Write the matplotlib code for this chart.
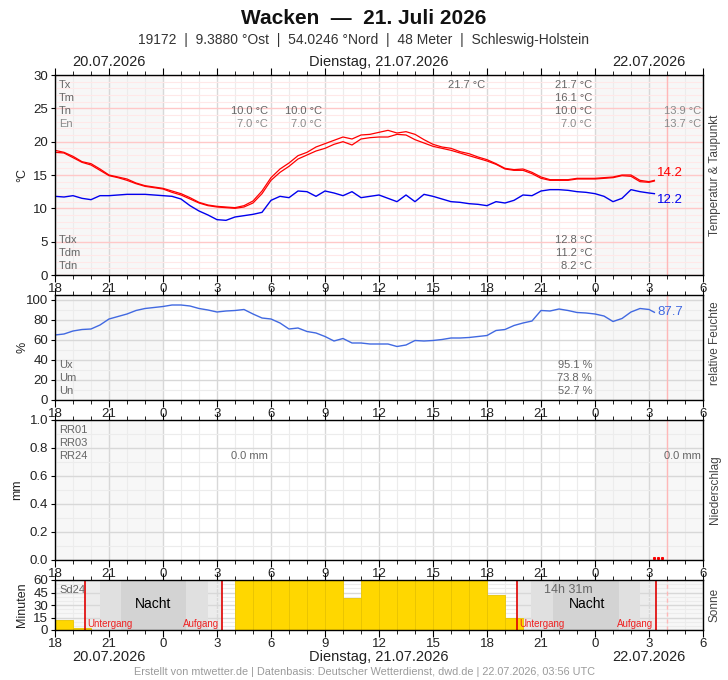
import numpy as np
import matplotlib
matplotlib.use("Agg")
import matplotlib.pyplot as plt
from matplotlib.ticker import MultipleLocator

plt.rcParams['font.family'] = ['Liberation Sans', 'DejaVu Sans']

# ---------------- data ----------------
hours_ticks = list(range(0, 37, 3))
hour_labels = ['18', '21', '0', '3', '6', '9', '12', '15', '18', '21', '0', '3', '6']

t_hours = [0, 0.5, 1, 1.5, 2, 2.5, 3, 3.5, 4, 4.5, 5, 5.5, 6, 6.5, 7, 7.5, 8, 8.5, 9, 9.5,
           10, 10.5, 11, 11.5, 12, 12.5, 13, 13.5, 14, 14.5, 15, 15.5, 16, 16.5, 17, 17.5,
           18, 18.5, 19, 19.5, 20, 20.5, 21, 21.5, 22, 22.5, 23, 23.5, 24, 24.5, 25, 25.5,
           26, 26.5, 27, 27.5, 28, 28.5, 29, 29.5, 30, 30.5, 31, 31.5, 32, 32.5, 33, 33.3]

temp_upper = [18.7, 18.4, 17.8, 17.0, 16.7, 15.9, 15.0, 14.7, 14.4, 13.8, 13.4, 13.2, 13.0, 12.6,
              12.2, 11.6, 10.9, 10.5, 10.3, 10.2, 10.1, 10.4, 11.1, 12.6, 14.6, 15.9, 16.8, 17.9,
              18.4, 19.2, 19.7, 20.2, 20.7, 20.4, 21.0, 21.1, 21.4, 21.7, 21.3, 21.5, 21.1, 20.3,
              19.6, 19.2, 19.0, 18.5, 18.2, 17.7, 17.3, 16.7, 16.0, 15.8, 15.9, 15.4, 14.7, 14.3,
              14.3, 14.3, 14.5, 14.5, 14.5, 14.6, 14.7, 15.0, 15.0, 14.2, 14.0, 14.2]

temp_lower = [18.4, 18.3, 17.6, 16.9, 16.5, 15.7, 14.9, 14.6, 14.2, 13.7, 13.3, 13.1, 12.9, 12.4,
              12.0, 11.4, 10.8, 10.4, 10.2, 10.1, 10.0, 10.2, 10.8, 12.2, 14.2, 15.4, 16.3, 17.4,
              18.0, 18.6, 19.0, 19.6, 20.0, 19.5, 20.4, 20.6, 20.7, 20.7, 21.1, 21.0, 20.3, 19.8,
              19.3, 19.0, 18.7, 18.3, 17.9, 17.5, 17.1, 16.6, 15.9, 15.7, 15.7, 15.2, 14.5, 14.2,
              14.2, 14.2, 14.4, 14.4, 14.4, 14.5, 14.6, 14.9, 14.8, 14.0, 13.9, 14.1]

dewpoint = [11.8, 11.7, 11.9, 11.5, 11.3, 11.9, 11.9, 12.0, 12.1, 12.1, 12.1, 12.0, 11.9, 11.8,
            11.4, 10.4, 9.6, 9.0, 8.3, 8.2, 8.7, 8.9, 9.1, 9.4, 11.2, 11.8, 11.6, 12.6, 12.5,
            11.8, 12.6, 12.3, 11.9, 12.5, 11.6, 11.8, 12.0, 11.5, 11.0, 12.0, 11.0, 12.1, 11.8,
            11.4, 11.0, 10.9, 10.7, 10.6, 10.4, 11.0, 10.8, 11.2, 12.0, 11.9, 12.6, 12.8, 12.8,
            12.7, 12.5, 12.4, 12.2, 11.8, 11.0, 11.5, 12.8, 12.5, 12.3, 12.2]

humidity = [65, 66, 69, 70.5, 71, 75, 81, 83.5, 86, 89.5, 91.5, 92.5, 93.5, 95, 95, 94, 91.5, 90,
            88, 89, 89.5, 90.5, 86, 82, 81, 77, 71, 72, 68.5, 67, 63.5, 59, 61.5, 57, 57, 56, 56,
            56, 53.5, 55, 59.5, 59, 59.5, 60.5, 62, 62, 62.5, 63.5, 64.5, 69.5, 70.5, 74.5, 77,
            79, 89.5, 89, 91, 89.5, 87.5, 87, 86, 84, 78.5, 81.5, 88, 91.5, 90.5, 87.7]

rr_hours = [33.3, 33.5, 33.7]
rr_vals = [0.0, 0.0, 0.0]

sun_hours = list(range(0, 26))
sun_minutes = [12, 2, 0, 0, 0, 0, 0, 0, 0, 0, 60, 60, 60, 60, 60, 60, 38, 60, 60, 60, 60, 60,
               60, 60, 42, 15]

sunset = [1.67, 25.67]
sunrise = [9.28, 33.4]
naut_start = [2.5, 26.45]
naut_end = [8.5, 32.5]
astro_start = [3.67, 27.67]
astro_end = [7.28, 31.33]

now_hour = 34.0

# ---------------- layout ----------------
W, H = 728, 680
fig = plt.figure(figsize=(W / 100, H / 100), dpi=100)


def add_ax(top, bottom):
    return fig.add_axes([55 / W, 1 - bottom / H, 648 / W, (bottom - top) / H])


def ftxt(x, y, s, **kw):
    kw.setdefault('va', 'center')
    fig.text(x / W, 1 - y / H, s, **kw)


GREY_TXT = '#666666'


def style_axis(ax, ymaj, ymin, hgrid_major, hgrid_minor):
    ax.set_xlim(0, 36)
    ax.set_xticks(hours_ticks)
    ax.set_xticklabels(hour_labels, fontsize=9.5, color='#222222')
    ax.xaxis.set_minor_locator(MultipleLocator(1))
    ax.yaxis.set_major_locator(MultipleLocator(ymaj))
    ax.yaxis.set_minor_locator(MultipleLocator(ymin))
    ax.tick_params(axis='x', which='both', direction='out', top=True, bottom=True,
                   labeltop=False, pad=1)
    ax.tick_params(axis='x', which='major', length=5)
    ax.tick_params(axis='x', which='minor', length=3)
    ax.tick_params(axis='y', which='major', length=3, labelsize=9.5, pad=2,
                   labelcolor='#222222')
    ax.tick_params(axis='y', which='minor', length=0)
    ax.axvspan(0, 6, color='#f7f7f7', zorder=0, lw=0)
    ax.axvspan(30, 36, color='#f7f7f7', zorder=0, lw=0)
    ax.grid(which='major', axis='x', color='#d8d8d8', lw=1, zorder=1)
    ax.grid(which='minor', axis='x', color='#ececec', lw=0.8, zorder=1)
    ax.grid(which='major', axis='y', color=hgrid_major, lw=1, zorder=1)
    ax.grid(which='minor', axis='y', color=hgrid_minor, lw=0.8, zorder=1)
    ax.set_axisbelow(True)
    for sp in ax.spines.values():
        sp.set_linewidth(1)
        sp.set_color('black')
        sp.set_zorder(10)


# ---------- temperature ----------
axT = add_ax(75, 275)
axT.set_ylim(0, 30)
style_axis(axT, 5, 1, '#ffc8c8', '#ffe8e8')
axT.axvline(now_hour, color='#ffb8b8', lw=1, zorder=2)
axT.plot(t_hours, temp_lower, color='#ff0000', lw=0.9, zorder=5)
axT.plot(t_hours, temp_upper, color='#ff0000', lw=0.9, zorder=5)
axT.plot(t_hours, dewpoint, color='#0000ee', lw=1, zorder=5)

# ---------- humidity ----------
axH = add_ax(295, 400)
axH.set_ylim(0, 105)
style_axis(axH, 20, 10, '#d8d8d8', '#ececec')
axH.set_yticks([0, 20, 40, 60, 80, 100])
axH.axvline(now_hour, color='#ffb8b8', lw=1, zorder=2)
axH.plot(t_hours, humidity, color='#4169e1', lw=1, zorder=5)

# ---------- precipitation ----------
axP = add_ax(420, 560)
axP.set_ylim(0, 1.0)
style_axis(axP, 0.2, 0.1, '#d8d8d8', '#ececec')
axP.yaxis.set_major_formatter(matplotlib.ticker.FormatStrFormatter('%.1f'))
axP.axvline(now_hour, color='#ffb8b8', lw=1, zorder=2)
axP.plot(rr_hours, [v + 0.012 for v in rr_vals], ls='none', marker='s', ms=1.2,
         color='#ff0000', zorder=6)

# ---------- sunshine ----------
axS = add_ax(580, 630)
axS.set_ylim(0, 60)
style_axis(axS, 15, 5, '#d8d8d8', '#ececec')
for i in range(len(sunset)):
    axS.axvspan(sunset[i], sunrise[i], color='#ececec', zorder=0.5, lw=0)
    axS.axvspan(naut_start[i], naut_end[i], color='#e0e0e0', zorder=0.6, lw=0)
    axS.axvspan(astro_start[i], astro_end[i], color='#d3d3d3', zorder=0.7, lw=0)
axS.bar(sun_hours, sun_minutes, width=1, align='edge', color='#ffd700',
        edgecolor='#e9c400', lw=0.6, zorder=3)
for i in range(len(sunset)):
    axS.axvline(sunset[i], color='#e00000', lw=1.2, zorder=6)
    axS.axvline(sunrise[i], color='#e00000', lw=1.2, zorder=6)
    axS.text(sunset[i] + 0.12, 7, 'Untergang', color='#ee2222', fontsize=7,
             va='center', ha='left', zorder=7)
    axS.text(sunrise[i] - 0.15, 7, 'Aufgang', color='#ee2222', fontsize=7,
             va='center', ha='right', zorder=7)
    axS.text((sunset[i] + sunrise[i]) / 2, 31, 'Nacht', color='black', fontsize=10,
             va='center', ha='center', zorder=7)
axS.axvline(now_hour, color='#ffb8b8', lw=1, ls=(0, (3, 2)), zorder=2)

# ---------------- texts ----------------
ftxt(364, 18, 'Wacken  —  21. Juli 2026', ha='center', fontsize=15, fontweight='bold',
     family=['Liberation Sans Narrow', 'Liberation Sans', 'DejaVu Sans'], color='#111111')
ftxt(364, 40, '19172  |  9.3880 °Ost  |  54.0246 °Nord  |  48 Meter  |  Schleswig-Holstein',
     ha='center', fontsize=10, color='#333333',
     family=['Liberation Sans Narrow', 'Liberation Sans', 'DejaVu Sans'])
for y in (62, 657):
    ftxt(109, y, '20.07.2026', ha='center', fontsize=10.5, color='#222222')
    ftxt(379, y, 'Dienstag, 21.07.2026', ha='center', fontsize=10.5, color='#222222')
    ftxt(649, y, '22.07.2026', ha='center', fontsize=10.5, color='#222222')
ftxt(364, 672, 'Erstellt von mtwetter.de | Datenbasis: Deutscher Wetterdienst, dwd.de | '
     '22.07.2026, 03:56 UTC', ha='center', fontsize=7.8, color='#9a9a9a')

# y labels
ftxt(22, 175, '°C', ha='center', rotation=90, fontsize=9, color='#222222')
ftxt(22, 347, '%', ha='center', rotation=90, fontsize=9, color='#222222')
ftxt(17, 490, 'mm', ha='center', rotation=90, fontsize=9, color='#222222')
ftxt(22, 605, 'Minuten', ha='center', rotation=90, fontsize=9, color='#222222')
ftxt(715, 175, 'Temperatur & Taupunkt', ha='center', rotation=90, fontsize=8.5, color='#444444')
ftxt(715, 343, 'relative Feuchte', ha='center', rotation=90, fontsize=8.5, color='#444444')
ftxt(715, 490, 'Niederschlag', ha='center', rotation=90, fontsize=8.5, color='#444444')
ftxt(715, 605, 'Sonne', ha='center', rotation=90, fontsize=8.5, color='#444444')

fs = 8
LIGHT = '#8a8a8a'
for lab, y, c in [('Tx', 85, GREY_TXT), ('Tm', 98, GREY_TXT), ('Tn', 111, GREY_TXT),
                  ('En', 124, LIGHT), ('Tdx', 240, GREY_TXT), ('Tdm', 253, GREY_TXT),
                  ('Tdn', 266, GREY_TXT), ('Ux', 365, GREY_TXT), ('Um', 378, GREY_TXT),
                  ('Un', 391, GREY_TXT), ('RR01', 430, GREY_TXT), ('RR03', 443, GREY_TXT),
                  ('RR24', 456, GREY_TXT), ('Sd24', 590, GREY_TXT)]:
    ftxt(59, y, lab, ha='left', fontsize=fs, color=c)

ftxt(268, 111, '10.0 °C', ha='right', fontsize=fs, color=GREY_TXT)
ftxt(268, 124, '7.0 °C', ha='right', fontsize=fs, color=LIGHT)
ftxt(322, 111, '10.0 °C', ha='right', fontsize=fs, color=GREY_TXT)
ftxt(322, 124, '7.0 °C', ha='right', fontsize=fs, color=LIGHT)
ftxt(485, 85, '21.7 °C', ha='right', fontsize=fs, color=GREY_TXT)
for s, y, c in [('21.7 °C', 85, GREY_TXT), ('16.1 °C', 98, GREY_TXT), ('10.0 °C', 111, GREY_TXT),
                ('7.0 °C', 124, LIGHT), ('12.8 °C', 240, GREY_TXT), ('11.2 °C', 253, GREY_TXT),
                ('8.2 °C', 266, GREY_TXT), ('95.1 %', 365, GREY_TXT), ('73.8 %', 378, GREY_TXT),
                ('52.7 %', 391, GREY_TXT)]:
    ftxt(592, y, s, ha='right', fontsize=fs, color=c)
ftxt(701, 111, '13.9 °C', ha='right', fontsize=fs, color=LIGHT)
ftxt(701, 124, '13.7 °C', ha='right', fontsize=fs, color=LIGHT)
ftxt(268, 456, '0.0 mm', ha='right', fontsize=fs, color=GREY_TXT)
ftxt(701, 456, '0.0 mm', ha='right', fontsize=fs, color=GREY_TXT)
ftxt(593, 590, '14h 31m', ha='right', fontsize=9, color=GREY_TXT)

ftxt(657, 173, '14.2', ha='left', fontsize=9.5, color='#ff0000')
ftxt(657, 200, '12.2', ha='left', fontsize=9.5, color='#0000ee')
ftxt(657, 312, '87.7', ha='left', fontsize=9.5, color='#4169e1')

fig.savefig('out.png', dpi=100)
